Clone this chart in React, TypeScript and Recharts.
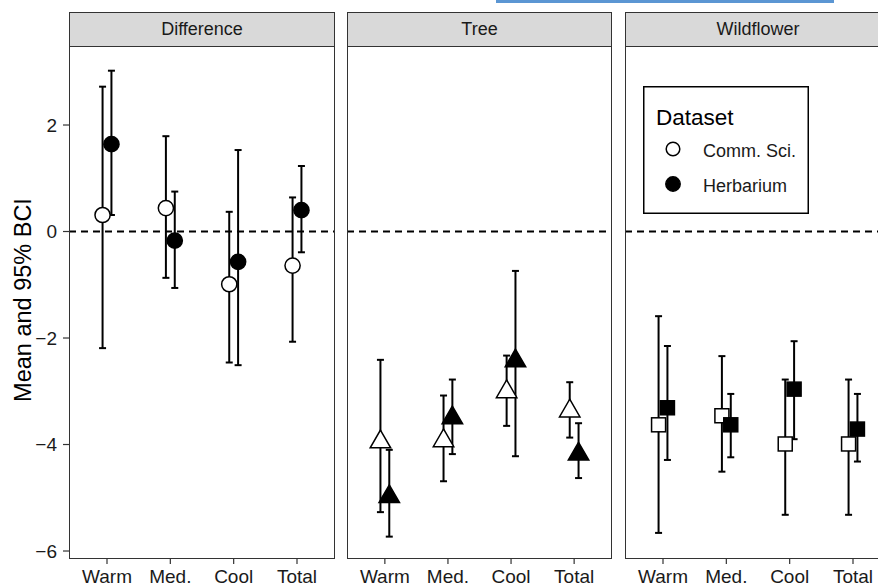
import React from 'react';
import { ScatterChart, Scatter, XAxis, YAxis, ErrorBar, ReferenceLine, Label } from 'recharts';

const categories = ['Warm', 'Med.', 'Cool', 'Total'];
const panelTitles = ['Difference', 'Tree', 'Wildflower'];
const yTicks = [-6, -4, -2, 0, 2];
const xTicks = [1, 2, 3, 4];

const diffCommMean = [0.31, 0.44, -0.99, -0.64];
const diffCommLow = [-2.19, -0.87, -2.46, -2.07];
const diffCommHigh = [2.72, 1.79, 0.37, 0.64];
const diffHerbMean = [1.64, -0.17, -0.57, 0.4];
const diffHerbLow = [0.31, -1.06, -2.51, -0.39];
const diffHerbHigh = [3.02, 0.75, 1.53, 1.23];

const treeCommMean = [-3.95, -3.93, -3.01, -3.37];
const treeCommLow = [-5.27, -4.69, -3.65, -3.87];
const treeCommHigh = [-2.41, -3.08, -2.33, -2.83];
const treeHerbMean = [-4.98, -3.5, -2.43, -4.18];
const treeHerbLow = [-5.73, -4.18, -4.22, -4.63];
const treeHerbHigh = [-4.1, -2.78, -0.74, -3.6];

const wildCommMean = [-3.63, -3.46, -3.99, -3.99];
const wildCommLow = [-5.66, -4.51, -5.32, -5.32];
const wildCommHigh = [-1.59, -2.34, -2.78, -2.78];
const wildHerbMean = [-3.31, -3.63, -2.96, -3.71];
const wildHerbLow = [-4.29, -4.24, -3.9, -4.32];
const wildHerbHigh = [-2.15, -3.05, -2.06, -3.05];

const legendLabels = ['Comm. Sci.', 'Herbarium'];

const Y_DOMAIN: [number, number] = [-6.15, 3.465];
const X_DOMAIN: [number, number] = [0.4, 4.6];
const DODGE = 0.07;
const FONT = '"Liberation Sans", Arial, Helvetica, sans-serif';

function build(mean: number[], low: number[], high: number[], offset: number) {
  return categories.map((c, i) => ({
    x: i + 1 + offset,
    y: mean[i],
    err: [mean[i] - low[i], high[i] - mean[i]],
  }));
}

const circleShape = (fill: string) => (p: any) =>
  <circle cx={p.cx} cy={p.cy} r={7.6} fill={fill} stroke="#000" strokeWidth={1.5} />;

const triShape = (fill: string) => (p: any) => {
  const xc = 7.6;
  const r = 1.555 * xc;
  const yc = 0.778 * xc;
  const hx = 1.347 * xc;
  return (
    <polygon
      points={`${p.cx},${p.cy - r} ${p.cx + hx},${p.cy + yc} ${p.cx - hx},${p.cy + yc}`}
      fill={fill}
      stroke="#000"
      strokeWidth={1.5}
      strokeLinejoin="miter"
    />
  );
};

const squareShape = (fill: string) => (p: any) =>
  <rect x={p.cx - 7} y={p.cy - 7} width={14} height={14} fill={fill} stroke="#000" strokeWidth={1.5} />;

const noShape = () => <g />;

const YLabel = () => (
  <text
    transform="translate(31, 300) rotate(-90)"
    textAnchor="middle"
    fontSize={23.5}
    fill="#000"
    style={{ fontFamily: FONT }}
  >
    Mean and 95% BCI
  </text>
);

const CHART_H = 600;
const PLOT_TOP = 47;
const PLOT_BOTTOM = 559;

type PanelProps = {
  title: string;
  left: number;
  plotLeft: number;
  plotWidth: number;
  showY: boolean;
  comm: any[];
  herb: any[];
  shape: (fill: string) => (p: any) => any;
};

function Panel({ title, left, plotLeft, plotWidth, showY, comm, herb, shape }: PanelProps) {
  const yW = showY ? plotLeft - left : 0;
  const width = yW + plotWidth;
  return (
    <>
      <div
        style={{
          position: 'absolute',
          left: plotLeft,
          top: 12,
          width: plotWidth,
          height: PLOT_TOP - 12,
          background: '#d9d9d9',
          border: '1px solid #333',
          boxSizing: 'border-box',
          display: 'flex',
          alignItems: 'center',
          justifyContent: 'center',
          fontSize: 18,
          color: '#1a1a1a',
        }}
      >
        {title}
      </div>
      <div style={{ position: 'absolute', left, top: 0, width, height: CHART_H }}>
        <ScatterChart
          width={width}
          height={CHART_H}
          margin={{ top: PLOT_TOP, right: 0, bottom: CHART_H - PLOT_BOTTOM - 30, left: 0 }}
        >
          <XAxis
            type="number"
            dataKey="x"
            domain={X_DOMAIN}
            ticks={xTicks}
            interval={0}
            allowDataOverflow
            tickFormatter={(v: number) => categories[Math.round(v) - 1]}
            axisLine={false}
            tickSize={5}
            tickMargin={6}
            height={30}
            tick={{ fontSize: 19, fill: '#1a1a1a' }}
            tickLine={{ stroke: '#333', strokeWidth: 1.2 }}
          />
          <YAxis
            type="number"
            dataKey="y"
            domain={Y_DOMAIN}
            ticks={yTicks}
            interval={0}
            allowDataOverflow
            hide={!showY}
            width={yW}
            axisLine={false}
            tickSize={6}
            tickMargin={6}
            tick={{ fontSize: 19, fill: '#1a1a1a' }}
            tickLine={{ stroke: '#333', strokeWidth: 1.2 }}
            tickFormatter={(v: number) => (v < 0 ? '\u2212' + Math.abs(v) : String(v))}
          >
            {showY ? <Label content={YLabel} /> : null}
          </YAxis>
          <ReferenceLine y={0} stroke="#000" strokeWidth={2} strokeDasharray="7 5" />
          <Scatter data={comm} shape={noShape} isAnimationActive={false}>
            <ErrorBar dataKey="err" direction="y" width={3.5} stroke="#000" strokeWidth={2} />
          </Scatter>
          <Scatter data={herb} shape={noShape} isAnimationActive={false}>
            <ErrorBar dataKey="err" direction="y" width={3.5} stroke="#000" strokeWidth={2} />
          </Scatter>
          <Scatter data={comm} shape={shape('#fff')} isAnimationActive={false} />
          <Scatter data={herb} shape={shape('#000')} isAnimationActive={false} />
        </ScatterChart>
      </div>
      <div
        style={{
          position: 'absolute',
          left: plotLeft,
          top: PLOT_TOP - 1,
          width: plotWidth,
          height: PLOT_BOTTOM - PLOT_TOP + 1,
          border: '1px solid #333',
          boxSizing: 'border-box',
          pointerEvents: 'none',
        }}
      />
    </>
  );
}

export default function App() {
  return (
    <div
      style={{
        position: 'absolute',
        left: 0,
        top: 0,
        width: 878,
        height: 587,
        overflow: 'hidden',
        background: '#fff',
        fontFamily: FONT,
      }}
    >
      <div style={{ position: 'absolute', left: 496, top: 0, width: 338, height: 3, background: '#5b96d3' }} />
      <Panel
        title={panelTitles[0]}
        left={0}
        plotLeft={69}
        plotWidth={266}
        showY
        comm={build(diffCommMean, diffCommLow, diffCommHigh, -DODGE)}
        herb={build(diffHerbMean, diffHerbLow, diffHerbHigh, DODGE)}
        shape={circleShape}
      />
      <Panel
        title={panelTitles[1]}
        left={347}
        plotLeft={347}
        plotWidth={265}
        showY={false}
        comm={build(treeCommMean, treeCommLow, treeCommHigh, -DODGE)}
        herb={build(treeHerbMean, treeHerbLow, treeHerbHigh, DODGE)}
        shape={triShape}
      />
      <Panel
        title={panelTitles[2]}
        left={625}
        plotLeft={625}
        plotWidth={266}
        showY={false}
        comm={build(wildCommMean, wildCommLow, wildCommHigh, -DODGE)}
        herb={build(wildHerbMean, wildHerbLow, wildHerbHigh, DODGE)}
        shape={squareShape}
      />
      <svg
        style={{ position: 'absolute', left: 643, top: 86 }}
        width={166}
        height={128}
      >
        <rect x={0.75} y={0.75} width={164.5} height={126.5} fill="#fff" stroke="#000" strokeWidth={1.5} />
        <text x={13} y={39} fontSize={22.5} fill="#000">Dataset</text>
        <circle cx={30} cy={63} r={6.8} fill="#fff" stroke="#000" strokeWidth={1.5} />
        <text x={60} y={70.5} fontSize={18} fill="#1a1a1a">{legendLabels[0]}</text>
        <circle cx={30} cy={98} r={7.2} fill="#000" stroke="#000" strokeWidth={1.5} />
        <text x={60} y={105.5} fontSize={18} fill="#1a1a1a">{legendLabels[1]}</text>
      </svg>
    </div>
  );
}
